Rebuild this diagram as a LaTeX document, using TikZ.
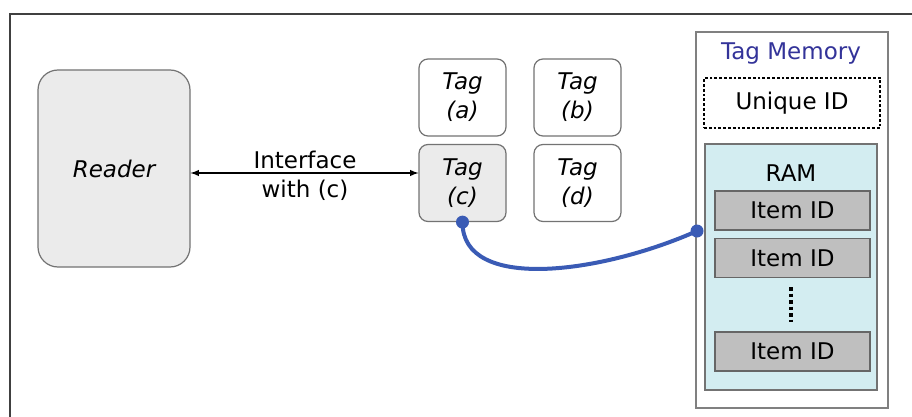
\documentclass[tikz,border=0pt]{standalone}
\usepackage{fontspec}
\setmainfont{DejaVu Sans}
\begin{document}
\begin{tikzpicture}[x=1pt,y=-1pt,
  every node/.style={font=\fontsize{23}{27}\selectfont, inner sep=0pt},
  tagbox/.style={draw=black!55, line width=1.2pt, rounded corners=9pt, fill=white, minimum width=87pt, minimum height=77pt, align=center, font=\fontsize{23}{29}\selectfont\itshape},
  itembox/.style={draw=black!60, line width=1.4pt, fill=black!25, minimum width=155pt, minimum height=39pt},
  bluelink/.style={draw=linkblue, line width=4pt},
]
\definecolor{linkblue}{HTML}{3A5BB5}
\definecolor{titleblue}{HTML}{333399}
\definecolor{ramfill}{HTML}{D3EDF1}
\useasboundingbox (0,0) rectangle (912,417);
\clip (0,0) rectangle (912,417);
\fill[white] (0,0) rectangle (912,417);
% outer frame
\draw[black!75, line width=1.5pt] (10,430) -- (10,14) -- (930,14);
% reader
\node[draw=black!55, line width=1.2pt, rounded corners=20pt, fill=black!8, minimum width=152pt, minimum height=197pt, font=\fontsize{23}{27}\selectfont\itshape] (reader) at (114,168.5) {Reader};
% tags
\node[tagbox] (taga) at (462.5,97.5) {Tag\\(a)};
\node[tagbox] (tagb) at (577.5,97.5) {Tag\\(b)};
\node[tagbox, fill=black!8] (tagc) at (462.5,183) {Tag\\(c)};
\node[tagbox] (tagd) at (577.5,183) {Tag\\(d)};
% interface arrow
\draw[<->, >=latex, line width=1.8pt] (reader.east |- 0,173) -- (tagc.west |- 0,173);
\node (lab1) at (305,160) {Interface};
\node (lab2) at (305,190) {with (c)};
% tag memory
\node[draw=black!50, line width=1.8pt, fill=white, minimum width=192pt, minimum height=376pt] (mem) at (792,220) {};
\node[text=titleblue] (memt) at (791,54) {Tag Memory};
\node[draw=black, line width=2.8pt, dotted, minimum width=176pt, minimum height=50pt] (uid) at (792,103) {Unique ID};
\node[draw=black!55, line width=1.4pt, fill=ramfill, minimum width=172pt, minimum height=246pt] (ram) at (791,267) {};
\node (ramt) at (791,173) {RAM};
\node[itembox] (i1) at (792.5,210.5) {Item ID};
\node[itembox] (i2) at (792.5,258) {Item ID};
\node[itembox] (i3) at (792.5,351.5) {Item ID};
\coordinate (d1) at (791,287);
\coordinate (d2) at (791,322);
\draw[line width=3.6pt, dash pattern=on 3.5pt off 3pt] (d1) -- (d2);
% blue link
\coordinate (lnkend) at (697,231);
\draw[bluelink] (tagc.south) .. controls (462,292) and (600,274) .. (lnkend);
\fill[linkblue] (tagc.south) circle (6.5pt);
\fill[linkblue] (lnkend) circle (6.5pt);
\end{tikzpicture}
\end{document}
